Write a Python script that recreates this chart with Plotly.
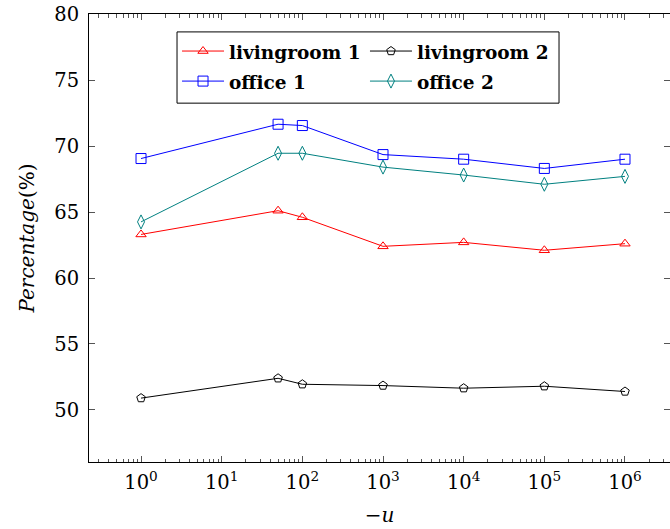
import plotly.graph_objects as go

# Parameter -u (log scale) and percentages per room
u_vals = [1, 50, 100, 1000, 10000, 100000, 1000000]
livingroom1 = [63.3, 65.1, 64.6, 62.4, 62.7, 62.1, 62.6]
livingroom2 = [50.9, 52.4, 51.95, 51.85, 51.65, 51.8, 51.4]
office1 = [69.05, 71.65, 71.55, 69.35, 69.0, 68.3, 69.0]
office2 = [64.25, 69.45, 69.45, 68.4, 67.8, 67.1, 67.7]

x_tickvals = [1, 10, 100, 1000, 10000, 100000, 1000000]
x_ticktext = ["10<sup>%d</sup>" % i for i in range(7)]
y_tickvals = [50, 55, 60, 65, 70, 75, 80]

# (name, values, colour, marker, size, legend column)
series = [
    ("livingroom 1", livingroom1, "#ff0000", "triangle-up-open", 9, "legend"),
    ("livingroom 2", livingroom2, "#000000", "pentagon-open", 9, "legend2"),
    ("office 1", office1, "#0000ff", "square-open", 10, "legend"),
    ("office 2", office2, "#008080", "diamond-tall-open", 10, "legend2"),
]

SERIF = "DejaVu Serif"
X_RANGE = [-0.645, 6.558]
Y_RANGE = [46.06, 80]

fig = go.Figure()
for name, vals, color, symbol, size, leg in series:
    fig.add_trace(go.Scatter(
        x=u_vals, y=vals, mode="lines+markers",
        name='<span style="font-size:18.5px"><b>%s</b></span>' % name,
        legend=leg,
        line=dict(color=color, width=1),
        marker=dict(symbol=symbol, size=size, color=color, line=dict(color=color, width=1)),
    ))

# invisible traces carrying the top x-axis and right y-axis ticks
fig.add_trace(go.Scatter(x=[u_vals[0]], y=[office1[0]], xaxis="x2", yaxis="y", mode="markers",
                         marker=dict(opacity=0), showlegend=False, hoverinfo="skip"))
fig.add_trace(go.Scatter(x=[u_vals[0]], y=[office1[0]], xaxis="x", yaxis="y2", mode="markers",
                         marker=dict(opacity=0), showlegend=False, hoverinfo="skip"))

# frame around the two legend columns
fig.add_shape(type="rect", xref="paper", yref="paper",
              x0=0.1515, x1=0.809, y0=0.801, y1=0.960,
              line=dict(color="#000", width=1), fillcolor="white", layer="above")

legend_common = dict(
    orientation="v", yanchor="top", xanchor="left", y=0.962,
    bgcolor="rgba(0,0,0,0)", borderwidth=0,
    font=dict(family="DejaVu Serif", size=20.8, color="#000"),
    itemwidth=42, tracegroupgap=0,
)

tick_font = dict(family=SERIF, size=19.5, color="#000")
minor_ticks = dict(ticks="inside", ticklen=3.5, dtick="D1", tickcolor="#555", showgrid=False)
fig.update_layout(
    width=670, height=529,
    margin=dict(l=89, r=0, t=14, b=67),
    paper_bgcolor="white", plot_bgcolor="white",
    font=dict(family=SERIF, color="#000"),
    xaxis=dict(
        type="log", range=X_RANGE,
        tickmode="array", tickvals=x_tickvals, ticktext=x_ticktext,
        ticks="inside", ticklen=6, tickcolor="#555", tickwidth=1,
        minor=minor_ticks,
        showline=True, linecolor="#000", linewidth=1, mirror=True,
        showgrid=False, zeroline=False, tickfont=tick_font, ticklabelstandoff=3,
        title=dict(text="\u2212<i>u</i>", font=dict(family=SERIF, size=20), standoff=14),
    ),
    xaxis2=dict(
        type="log", range=X_RANGE, overlaying="x", side="top", anchor="y",
        tickmode="array", tickvals=x_tickvals,
        ticks="inside", ticklen=6, tickcolor="#555", tickwidth=1,
        minor=minor_ticks, showticklabels=False,
        showline=False, showgrid=False, zeroline=False,
    ),
    yaxis=dict(
        range=Y_RANGE, tickmode="array", tickvals=y_tickvals,
        ticks="inside", ticklen=6, tickcolor="#555", tickwidth=1,
        showline=True, linecolor="#000", linewidth=1,
        showgrid=False, zeroline=False, tickfont=tick_font, ticklabelstandoff=5,
        title=dict(text="<i>Percentage</i>(%)", font=dict(family=SERIF, size=20), standoff=14),
    ),
    yaxis2=dict(
        overlaying="y", side="right", range=Y_RANGE, tickmode="array", tickvals=y_tickvals,
        ticks="inside", ticklen=6, tickcolor="#555", showticklabels=False,
        showline=False, showgrid=False, zeroline=False,
    ),
    legend=dict(x=0.1515, **legend_common),
    legend2=dict(x=0.475, **legend_common),
    showlegend=True,
)

fig.write_html("out.html")
